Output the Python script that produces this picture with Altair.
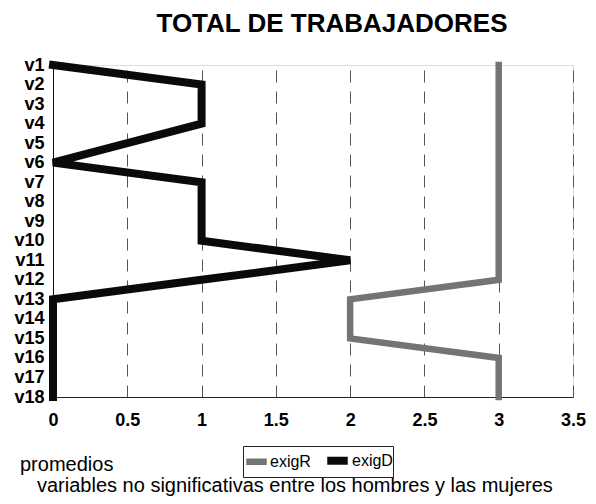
import altair as alt
import pandas as pd

categories = [f"v{i}" for i in range(1, 19)]
exigR = [3, 3, 3, 3, 3, 3, 3, 3, 3, 3, 3, 3, 2, 2, 2, 3, 3, 3]
exigD = [0, 1, 1, 1, 0.5, 0, 1, 1, 1, 1, 2, 1, 0, 0, 0, 0, 0, 0]
series_names = ["exigR", "exigD"]
x_ticks = [0, 0.5, 1, 1.5, 2, 2.5, 3, 3.5]

rows = []
for name, vals in zip(series_names, [exigR, exigD]):
    for i, (c, v) in enumerate(zip(categories, vals)):
        rows.append({"var": c, "value": v, "serie": name, "idx": i})
df = pd.DataFrame(rows)

FONT = "Liberation Sans"

lines = alt.Chart(df).mark_line(strokeJoin="miter", strokeCap="square").encode(
    x=alt.X("value:Q", scale=alt.Scale(domain=[0, 3.5], nice=False, zero=False),
            axis=alt.Axis(values=x_ticks, title=None, labelFontWeight="bold", labelFontSize=18,
                          labelFont=FONT, labelColor="#000", ticks=False, labelPadding=14,
                          grid=True, gridDash=[12, 9], gridColor="#555", gridWidth=1,
                          domainColor="#222", labelFlush=False, format="~g")),
    y=alt.Y("var:N", sort=categories, scale=alt.Scale(type="point", padding=0),
            axis=alt.Axis(title=None, labelFontWeight="bold", labelFontSize=18, labelFont=FONT,
                          labelColor="#000", ticks=False, labelPadding=9, domainColor="#111",
                          grid=False)),
    color=alt.Color("serie:N", scale=alt.Scale(domain=series_names, range=["#747474", "#0a0a0a"]),
                    legend=alt.Legend(title=None, orient="none", direction="horizontal",
                                      legendX=190, legendY=381, symbolType="stroke",
                                      symbolStrokeWidth=7, symbolSize=420, labelFont=FONT,
                                      labelFontSize=16, labelColor="#000", columnPadding=0,
                                      symbolOffset=0, labelOffset=0, strokeColor="#222",
                                      padding=0, rowPadding=0)),
    strokeWidth=alt.StrokeWidth("serie:N", scale=alt.Scale(domain=series_names, range=[6.5, 8]),
                                legend=None),
    order=alt.Order("idx:Q"),
    detail="serie:N",
)

notes = pd.DataFrame({"t": ["promedios", "variables no significativas entre los hombres y las mujeres"],
                      "x": [-33, -16], "y": [406, 427]})
text = alt.Chart(notes).mark_text(align="left", baseline="alphabetic", fontSize=20, font=FONT,
                                  color="#000").encode(
    x=alt.X("x:Q", scale=None), y=alt.Y("y:Q", scale=None), text="t:N")

chart = alt.layer(lines, text).properties(
    width=520, height=332,
    title=alt.TitleParams("TOTAL DE TRABAJADORES", fontSize=26, font=FONT, fontWeight="bold",
                          anchor="middle", frame="group", offset=12, dx=19, color="#000"),
    autosize=alt.AutoSizeParams(type="none"),
    padding={"left": 45, "top": 57, "right": 15, "bottom": 99},
).configure_view(stroke="#444", strokeWidth=1).configure(background="white")

chart.save("out.html", embed_options={"renderer": "svg", "actions": False})
